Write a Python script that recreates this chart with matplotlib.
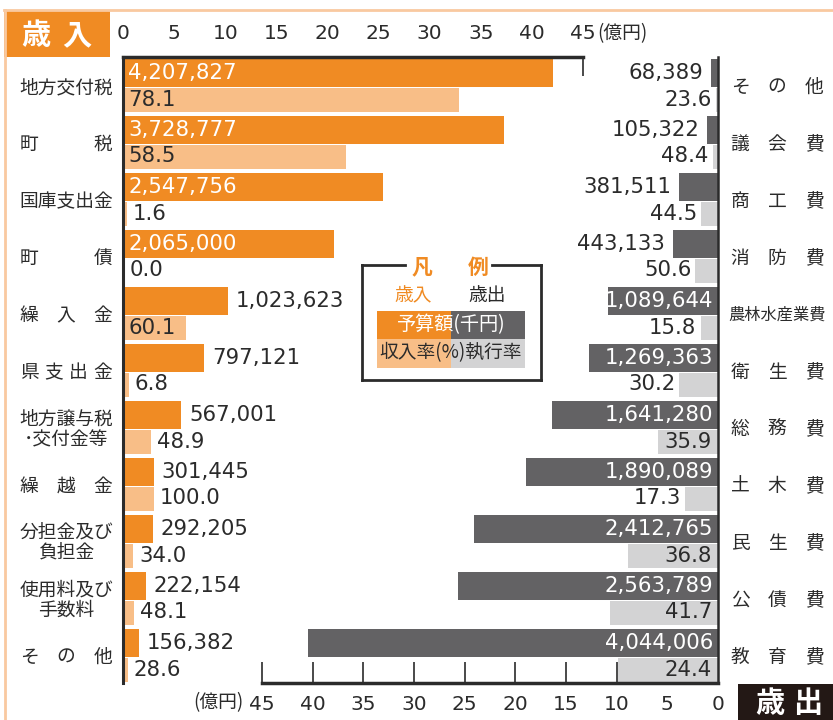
import matplotlib
matplotlib.use("Agg")
import matplotlib.pyplot as plt
from matplotlib.lines import Line2D
from matplotlib.patches import Rectangle
from matplotlib.transforms import blended_transform_factory

plt.rcParams['font.family'] = ['Noto Sans CJK JP', 'DejaVu Sans']

# ---------------- data ----------------
rev_names = ["地方交付税", "町　　　税", "国庫支出金", "町　　　債", "繰　入　金", "県支出金",
             "地方譲与税\n･交付金等", "繰　越　金", "分担金及び\n負担金", "使用料及び\n手数料", "そ　の　他"]
rev_budget = [4207827, 3728777, 2547756, 2065000, 1023623, 797121, 567001, 301445, 292205, 222154, 156382]
rev_rate = [78.1, 58.5, 1.6, 0.0, 60.1, 6.8, 48.9, 100.0, 34.0, 48.1, 28.6]

exp_names = ["その他", "議会費", "商工費", "消防費", "農林水産業費", "衛生費",
             "総務費", "土木費", "民生費", "公債費", "教育費"]
exp_budget = [68389, 105322, 381511, 443133, 1089644, 1269363, 1641280, 1890089, 2412765, 2563789, 4044006]
exp_rate = [23.6, 48.4, 44.5, 50.6, 15.8, 30.2, 35.9, 17.3, 36.8, 41.7, 24.4]

ticks = [0, 5, 10, 15, 20, 25, 30, 35, 40, 45]

# ---------------- style ----------------
ORANGE = "#F08B23"
LORANGE = "#F8BE87"
DGREY = "#636264"
LGREY = "#D3D3D4"
TXT = "#2b2b2b"
NUMFONT = "DejaVu Sans"
NUMSIZE = 15.3
W, H = 833, 720

fig = plt.figure(figsize=(W / 100, H / 100), dpi=100)


def fx(px):
    return px / W


def fy(py):
    return 1 - py / H


TOP, BOT = 57, 683
PITCH = 57.0
ROW0 = 86.0
ylim = ((BOT - ROW0) / PITCH, (TOP - ROW0) / PITCH)
yb_off = (73.0 - ROW0) / PITCH
yr_off = (99.5 - ROW0) / PITCH
hb = 28 / PITCH
hr = 24 / PITCH

axL = fig.add_axes([fx(123), fy(BOT), (583 - 123) / W, (BOT - TOP) / H])
axR = fig.add_axes([fx(262), fy(BOT), (718 - 262) / W, (BOT - TOP) / H])
for ax in (axL, axR):
    ax.set_facecolor("none")
    ax.set_ylim(*ylim)
    ax.set_yticks([])
    ax.set_axisbelow(True)
    for s in ax.spines.values():
        s.set_color(TXT)

# left axis (revenue)
axL.set_xlim(0, 45)
axL.set_xticks(ticks)
axL.xaxis.tick_top()
axL.tick_params(axis='x', direction='in', length=14, width=1.2, color=TXT, pad=10,
                labelsize=14.5, labelcolor=TXT)
for lab in axL.get_xticklabels():
    lab.set_family(NUMFONT)
axL.spines['right'].set_visible(False)
axL.spines['bottom'].set_visible(False)
axL.spines['top'].set_linewidth(2.5)
axL.spines['left'].set_linewidth(2.2)

# right axis (expenditure)
axR.set_xlim(45, 0)
axR.set_xticks(ticks)
axR.tick_params(axis='x', direction='in', length=15, width=1.2, color=TXT, pad=9,
                labelsize=14.5, labelcolor=TXT)
for lab in axR.get_xticklabels():
    lab.set_family(NUMFONT)
axR.spines['left'].set_visible(False)
axR.spines['top'].set_visible(False)
axR.spines['bottom'].set_linewidth(2.5)
axR.spines['right'].set_linewidth(1.8)

scaleL = 460 / 45.0
scaleR = 456 / 45.0

# revenue bars
for i, (v, r) in enumerate(zip(rev_budget, rev_rate)):
    b = v / 1e5
    a = b * r / 100
    yb = i + yb_off
    yr = i + yr_off
    axL.barh(yb, b, height=hb, color=ORANGE, linewidth=0)
    axL.barh(yr, a, height=hr, color=LORANGE, linewidth=0)
    if b >= 15:
        axL.annotate(f"{v:,}", (0, yb), xytext=(5, 0), textcoords='offset pixels',
                     ha='left', va='center', color='white', fontsize=NUMSIZE, family=NUMFONT)
    else:
        axL.annotate(f"{v:,}", (b, yb), xytext=(8, 0), textcoords='offset pixels',
                     ha='left', va='center', color=TXT, fontsize=NUMSIZE, family=NUMFONT)
    if a >= 5:
        axL.annotate(f"{r:.1f}", (0, yr), xytext=(5, 0), textcoords='offset pixels',
                     ha='left', va='center', color=TXT, fontsize=NUMSIZE, family=NUMFONT)
    else:
        off = max(a * scaleL + 6, 7)
        axL.annotate(f"{r:.1f}", (0, yr), xytext=(off, 0), textcoords='offset pixels',
                     ha='left', va='center', color=TXT, fontsize=NUMSIZE, family=NUMFONT)

# expenditure bars
for i, (v, r) in enumerate(zip(exp_budget, exp_rate)):
    b = v / 1e5
    a = b * r / 100
    yb = i + yb_off
    yr = i + yr_off
    axR.barh(yb, b, height=hb, color=DGREY, linewidth=0)
    axR.barh(yr, a, height=hr, color=LGREY, linewidth=0)
    if b >= 10:
        axR.annotate(f"{v:,}", (0, yb), xytext=(-5, 0), textcoords='offset pixels',
                     ha='right', va='center', color='white', fontsize=NUMSIZE, family=NUMFONT)
    else:
        axR.annotate(f"{v:,}", (b, yb), xytext=(-8, 0), textcoords='offset pixels',
                     ha='right', va='center', color=TXT, fontsize=NUMSIZE, family=NUMFONT)
    if a >= 5:
        axR.annotate(f"{r:.1f}", (0, yr), xytext=(-6, 0), textcoords='offset pixels',
                     ha='right', va='center', color=TXT, fontsize=NUMSIZE, family=NUMFONT)
    else:
        axR.annotate(f"{r:.1f}", (a, yr), xytext=(-4, 0), textcoords='offset pixels',
                     ha='right', va='center', color=TXT, fontsize=NUMSIZE, family=NUMFONT)

# ---------------- category labels ----------------
trL = blended_transform_factory(fig.transFigure, axL.transData)
trR = blended_transform_factory(fig.transFigure, axR.transData)


def spread_label(text, i, x0, x1, tr, size=13.5):
    chars = [c for c in text if c != "　"]
    n = len(chars)
    yc = i + 1.5 / PITCH
    if "\n" in text:
        l1, l2 = text.split("\n")
        fig.text(fx((x0 + x1) / 2), yc - 10 / PITCH, l1, transform=tr, ha='center', va='center',
                 fontsize=size, color=TXT)
        fig.text(fx((x0 + x1) / 2), yc + 10 / PITCH, l2, transform=tr, ha='center', va='center',
                 fontsize=size, color=TXT)
    elif n >= 5:
        fs = size if n == 5 else size * 5.2 / n
        fig.text(fx((x0 + x1) / 2), yc, "".join(chars), transform=tr, ha='center', va='center',
                 fontsize=fs, color=TXT)
    else:
        cw = 18
        c0 = x0 + cw / 2
        c1 = x1 - cw / 2
        for k, c in enumerate(chars):
            cx = c0 + (c1 - c0) * k / (n - 1)
            fig.text(fx(cx), yc, c, transform=tr, ha='center', va='center', fontsize=size, color=TXT)


for i, name in enumerate(rev_names):
    spread_label(name, i, 20, 112, trL)
for i, name in enumerate(exp_names):
    spread_label(name, i, 731, 823, trR)

# ---------------- decorations ----------------
# light orange frame lines
fig.add_artist(Line2D([fx(4), fx(833)], [fy(10), fy(10)], color="#F9C9A0", lw=2))
fig.add_artist(Line2D([fx(5), fx(5)], [fy(10), fy(720)], color="#F9C9A0", lw=2))
# 歳入 box
fig.add_artist(Rectangle((fx(4), fy(57)), (110 - 4) / W, (57 - 11) / H, transform=fig.transFigure,
                         color=ORANGE, lw=0))
fig.text(fx(36), fy(35), "歳", color='white', fontsize=21, fontweight='bold', ha='center', va='center')
fig.text(fx(77), fy(35), "入", color='white', fontsize=21, fontweight='bold', ha='center', va='center')
# 歳出 box
fig.add_artist(Rectangle((fx(738), fy(720)), (833 - 738) / W, (720 - 684) / H, transform=fig.transFigure,
                         color="#231815", lw=0))
fig.text(fx(770), fy(703), "歳", color='white', fontsize=21, fontweight='bold', ha='center', va='center')
fig.text(fx(808), fy(703), "出", color='white', fontsize=21, fontweight='bold', ha='center', va='center')

# unit labels
fig.text(fx(597), fy(34), "(億円)", fontsize=13.5, color=TXT, ha='left', va='center')
fig.text(fx(244), fy(703), "(億円)", fontsize=13.5, color=TXT, ha='right', va='center')

# legend
LX0, LX1, LY0, LY1 = 362, 541, 265, 380
for seg in [((LX0, 405), (LY0, LY0)), ((492, LX1), (LY0, LY0)), ((LX0, LX0), (LY0, LY1)),
            ((LX1, LX1), (LY0, LY1)), ((LX0, LX1), (LY1, LY1))]:
    fig.add_artist(Line2D([fx(seg[0][0]), fx(seg[0][1])], [fy(seg[1][0]), fy(seg[1][1])],
                          color=TXT, lw=2, solid_capstyle='projecting'))
fig.text(fx(422), fy(267), "凡", color=ORANGE, fontsize=15, fontweight='bold', ha='center', va='center')
fig.text(fx(478), fy(267), "例", color=ORANGE, fontsize=15, fontweight='bold', ha='center', va='center')
fig.text(fx(413), fy(296), "歳入", color=ORANGE, fontsize=13.5, ha='center', va='center')
fig.text(fx(487), fy(296), "歳出", color=TXT, fontsize=13.5, ha='center', va='center')
for (x0, x1, y0, y1, c) in [(377, 451, 311, 339, ORANGE), (451, 525, 311, 339, DGREY),
                            (377, 451, 339, 368, LORANGE), (451, 525, 339, 368, LGREY)]:
    fig.add_artist(Rectangle((fx(x0), fy(y1)), (x1 - x0) / W, (y1 - y0) / H,
                             transform=fig.transFigure, color=c, lw=0))
fig.text(fx(451), fy(325), "予算額(千円)", color='white', fontsize=13.8, ha='center', va='center')
fig.text(fx(451), fy(353), "収入率(%)執行率", color=TXT, fontsize=13.5, ha='center', va='center')

fig.savefig("out.png", dpi=100)
